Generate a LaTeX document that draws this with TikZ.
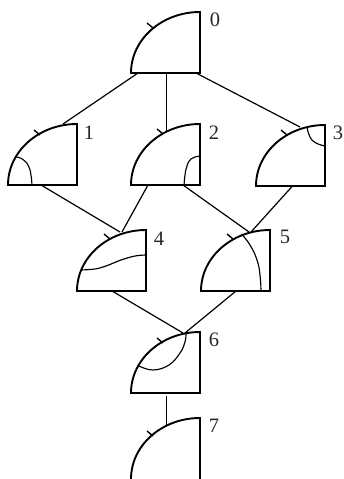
\documentclass[tikz,border=0pt]{standalone}
\usepackage{fontspec}
\setmainfont{Liberation Serif}
\usetikzlibrary{positioning}
\tikzset{
  cell/.style={minimum width=69pt, minimum height=61pt, inner sep=0pt, outer sep=0pt, anchor=north west},
  outline/.style={line width=1.9pt, black, line join=miter},
  link/.style={line width=1.2pt, black},
  region/.style={line width=1.15pt, black},
  tag/.style={font=\fontsize{20.5}{20.5}\selectfont, text=black!85, inner sep=0pt},
}
\begin{document}
\begin{tikzpicture}[x=1pt, y=-1pt]
    \useasboundingbox (0,0) rectangle (344,479);

    \foreach \name/\x/\y/\tx/\ty/\lx/\ly/\lab in {
        n0/131/12/22/16/84/8/0, n1/8/124/32/11/81/9/1, n2/131/124/32/10/83/9/2,
        n3/256/125/31/10/82/8/3, n4/77/230/33/9/82/9/4, n5/201/230/32/9/84/7/5,
        n6/131/332/32/11/83/8/6} {
      \node[cell] (\name) at (\x,\y) {};
      \draw[outline] (\name.south west) arc[start angle=180, end angle=90, x radius=69pt, y radius=61pt]
        -- (\name.south east) -- cycle;
      \draw[outline, line width=1.4pt] ([shift={(\tx,\ty)}]\name.north west) -- ++(-6,-5);
      \node[tag] (t\lab) at ([shift={(\lx,\ly)}]\name.north west) {\lab};
    }
    % last one runs off the page, no base line
    \node[cell] (n7) at (131,418) {};
    \draw[outline] (n7.south west) arc[start angle=180, end angle=90, x radius=69pt, y radius=61pt]
      -- (n7.south east);
    \draw[outline, line width=1.4pt] ([shift={(22,18)}]n7.north west) -- ++(-6,-5);
    \node[tag] (t7) at ([shift={(83,8)}]n7.north west) {7};

    \draw[link] ([shift={(7,0)}]n0.south west) -- ([shift={(55,0)}]n1.north west);
    \draw[link] ([shift={(35.5,0)}]n0.south west) -- ([shift={(35.5,8)}]n2.north west);
    \draw[link] ([shift={(65,0)}]n0.south west) -- ([shift={(44,2)}]n3.north west);
    \draw[link] ([shift={(33,0)}]n1.south west) -- ([shift={(43,2)}]n4.north west);
    \draw[link] ([shift={(17,0)}]n2.south west) -- ([shift={(45,2)}]n4.north west);
    \draw[link] ([shift={(52,0)}]n2.south west) -- ([shift={(48,2)}]n5.north west);
    \draw[link] ([shift={(36.5,0)}]n3.south west) -- ([shift={(50,2)}]n5.north west);
    \draw[link] ([shift={(35,0)}]n4.south west) -- ([shift={(52,1)}]n6.north west);
    \draw[link] ([shift={(35,0)}]n5.south west) -- ([shift={(54,1)}]n6.north west);
    \draw[link] ([shift={(35.5,3)}]n6.south west) -- ([shift={(35.5,8)}]n7.north west);

    \draw[region] plot[smooth, tension=0.8] coordinates {(16.5,157) (23,159.5) (28.5,166) (31,175) (32,186)};
    \draw[region] plot[smooth, tension=0.8] coordinates {(199.5,156) (191,159) (187,166) (185,175) (184,186)};
    \draw[region] plot[smooth, tension=0.8] coordinates {(307,127) (310,137) (316,143) (325,146)};
    \draw[region] plot[smooth, tension=0.6] coordinates {(81,270) (95,269) (106,266) (121,260) (135,256) (146,255)};
    \draw[region] plot[smooth, tension=0.8] coordinates {(241.5,234) (250,245) (257,260) (260,275) (261,291)};
    \draw[region] plot[smooth, tension=0.7] coordinates {(139,366) (153,370) (169,365) (180,353) (185,342) (186,333)};
\end{tikzpicture}
\end{document}
